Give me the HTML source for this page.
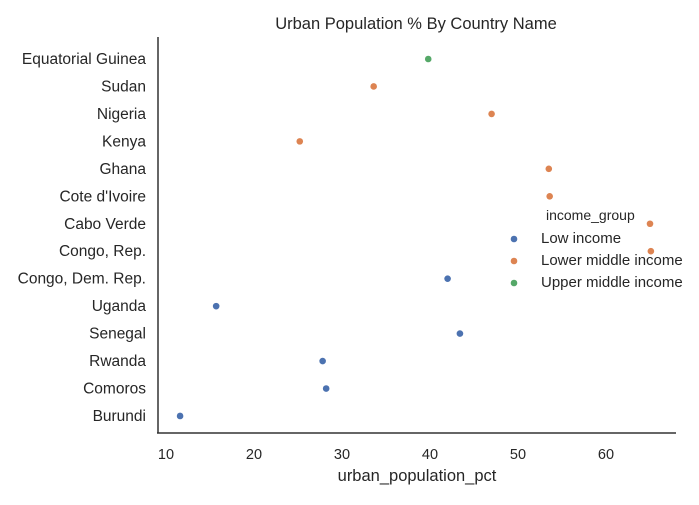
<!DOCTYPE html>
<html><head><meta charset="utf-8"><style>
body{margin:0;background:#fff;font-family:"Liberation Sans",Arial,sans-serif}
svg text{font-family:"Liberation Sans",Arial,sans-serif;fill:#262626}
</style></head><body>
<svg id="chart" width="699" height="500"></svg>
<script>
const countries=["Equatorial Guinea","Sudan","Nigeria","Kenya","Ghana","Cote d'Ivoire","Cabo Verde","Congo, Rep.","Congo, Dem. Rep.","Uganda","Senegal","Rwanda","Comoros","Burundi"];
const urbanPct=[39.8,33.6,47.0,25.2,53.5,53.6,65.0,65.1,42.0,15.7,43.4,27.8,28.2,11.6];
const groups=[2,1,1,1,1,1,1,1,0,0,0,0,0,0];
const groupNames=["Low income","Lower middle income","Upper middle income"];
const xTicks=[10,20,30,40,50,60];
const colors=["#4c72b0","#dd8452","#55a868"];
const NS="http://www.w3.org/2000/svg";
const svg=document.getElementById('chart');
function x(v){return 166+(v-10)*8.8;}
function y(i){return 59+i*27.46;}
function mk(t,a,txt){const e=document.createElementNS(NS,t);for(const k in a)e.setAttribute(k,a[k]);if(txt!==undefined)e.textContent=txt;svg.appendChild(e);return e;}
let e=mk('text',{x:416,y:29,'text-anchor':'middle','font-size':16.5},'Urban Population % By Country Name');


e=mk('line',{x1:158,y1:37,x2:158,y2:433.5,stroke:'#333','stroke-width':1.5});


e=mk('line',{x1:157,y1:433,x2:676,y2:433,stroke:'#333','stroke-width':1.5});


xTicks.forEach(t=>{const el=mk('text',{x:x(t),y:459,'text-anchor':'middle','font-size':14.5},t);

});
e=mk('text',{x:417,y:481,'text-anchor':'middle','font-size':16.5},'urban_population_pct');


countries.forEach((c,i)=>{
 const l=mk('text',{x:146,y:y(i)+5,'text-anchor':'end','font-size':15.5},c);
 
 
 const p=mk('circle',{cx:x(urbanPct[i]),cy:y(i),r:3.3,fill:colors[groups[i]]});
 
 
});
e=mk('text',{x:546,y:220,'font-size':14},'income_group');


groupNames.forEach((g,i)=>{
 const c=mk('circle',{cx:514,cy:239+i*22,r:3.3,fill:colors[i]});
 
 
 const t=mk('text',{x:541,y:243+i*22,'font-size':15},g);
 
 
});
</script>
</body></html>
